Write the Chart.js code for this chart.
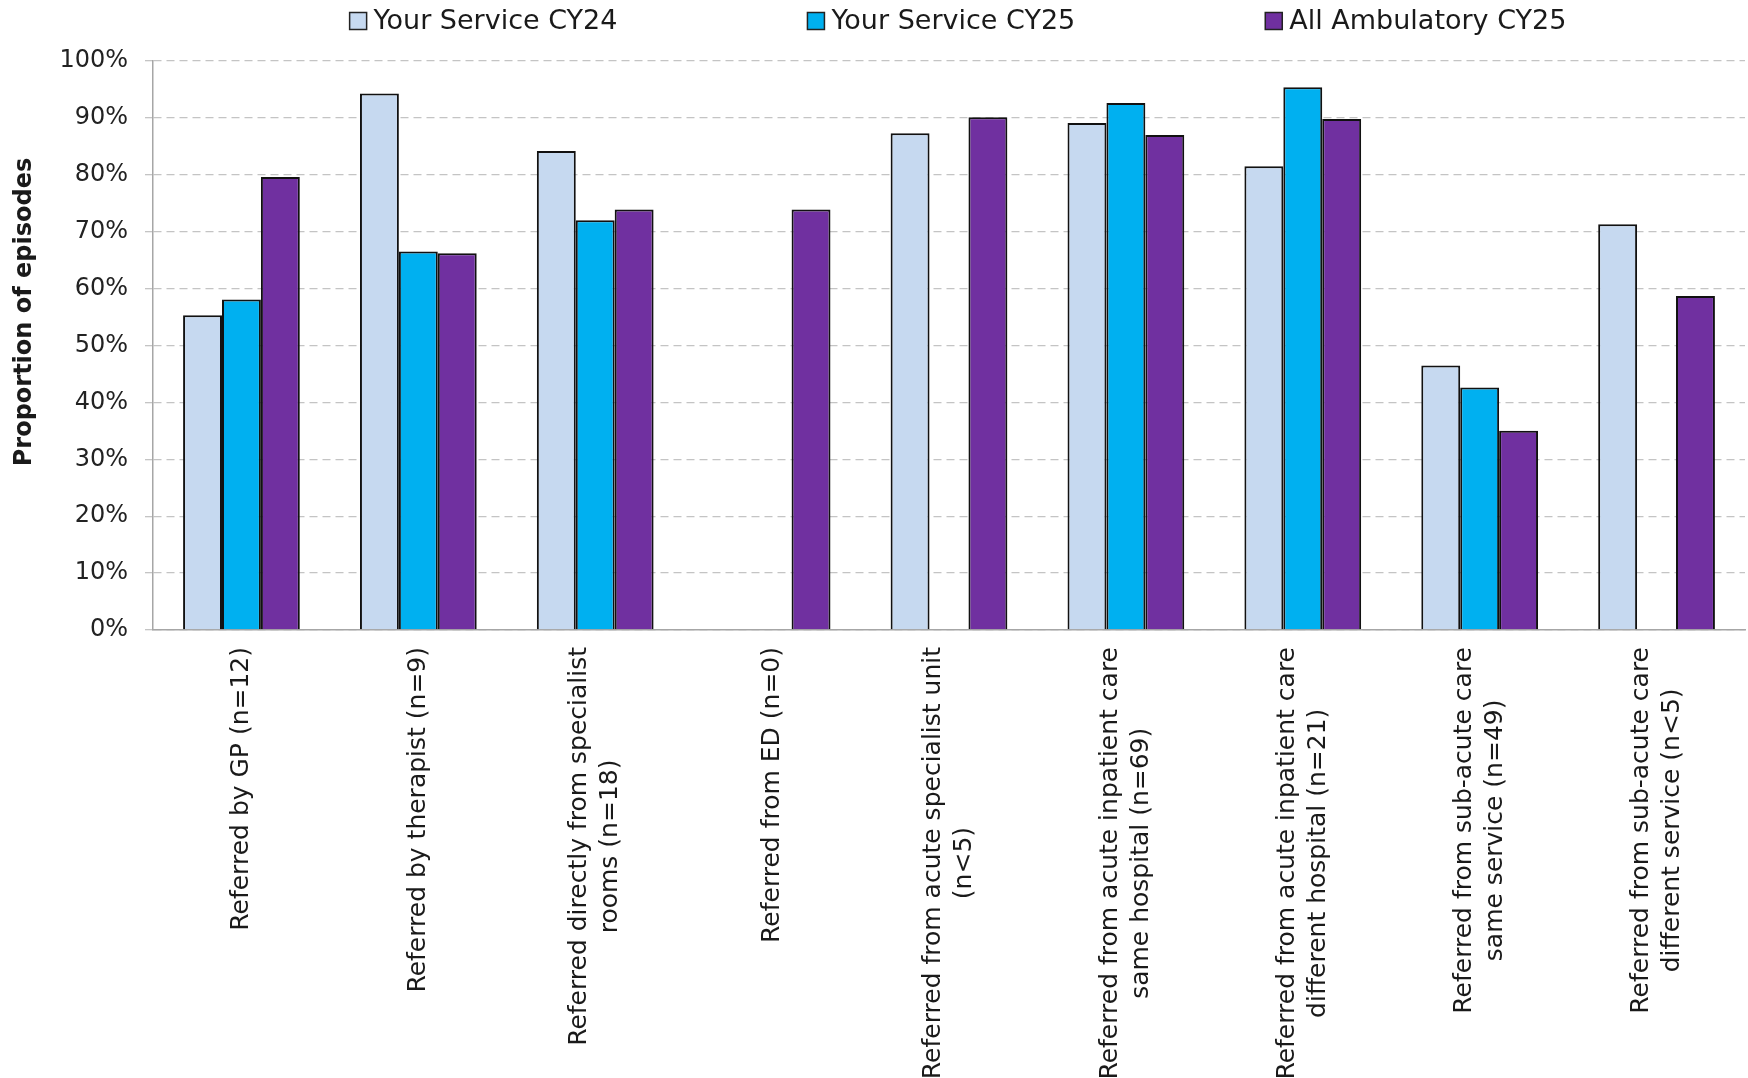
<!DOCTYPE html>
<html>
<head>
<meta charset="utf-8">
<script src="https://cdn.jsdelivr.net/npm/chart.js@4.4.1/dist/chart.umd.min.js"></script>
<style>
  html, body { margin: 0; padding: 0; background: #fff; }
  #wrap { width: 1748px; height: 1078px; }
</style>
</head>
<body>
<div id="wrap"><canvas id="referralChart"></canvas></div>
<script>
// categories (wrapped as in the original axis)
const categories = [
    ["Referred by GP (n=12)"],
    ["Referred by therapist (n=9)"],
    ["Referred directly from specialist", "rooms (n=18)"],
    ["Referred from ED (n=0)"],
    ["Referred from acute specialist unit", "(n<5)"],
    ["Referred from acute inpatient care", "same hospital (n=69)"],
    ["Referred from acute inpatient care", "different hospital (n=21)"],
    ["Referred from sub-acute care", "same service (n=49)"],
    ["Referred from sub-acute care", "different service (n<5)"]
];

const seriesNames = ["Your Service CY24", "Your Service CY25", "All Ambulatory CY25"];

// proportion of episodes, %
const serviceCY24 = [55.3, 94.3, 84.2, null, 87.3, 89.1, 81.5, 46.5, 71.3];
const serviceCY25 = [58.1, 66.5, 72.0, null, null, 92.6, 95.4, 42.6, null];
const allAmbulatoryCY25 = [79.6, 66.2, 73.9, 73.9, 90.1, 87.0, 89.8, 35.0, 58.7];

const yTickValues = [0, 10, 20, 30, 40, 50, 60, 70, 80, 90, 100];
const yTitle = "Proportion of episodes";

const FONT = "'DejaVu Sans', sans-serif";
Chart.defaults.font.family = FONT;
Chart.defaults.color = "#222";

// labels, axis title and legend drawn the way the original lays them out
const refText = {
    id: "refText",
    afterDraw(chart) {
        const { ctx, chartArea, scales } = chart;
        const x = scales.x;
        ctx.save();
        ctx.fillStyle = "#1a1a1a";
        ctx.textBaseline = "middle";

        // category labels, rotated, extra lines centred on the first
        ctx.font = "25px " + FONT;
        ctx.textAlign = "center";
        chart.data.labels.forEach(function (lines, i) {
            const px = x.getPixelForValue(i);
            const maxW = Math.max(...lines.map(l => ctx.measureText(l).width));
            ctx.save();
            ctx.translate(px, chartArea.bottom + 17);
            ctx.rotate(-Math.PI / 2);
            lines.forEach(function (l, j) {
                ctx.fillText(l, -maxW / 2, (j - (lines.length - 1) / 2) * 31);
            });
            ctx.restore();
        });

        // y axis title
        ctx.save();
        ctx.font = "bold 24px " + FONT;
        ctx.translate(25, 312);
        ctx.rotate(-Math.PI / 2);
        ctx.fillText(yTitle, 0, 0);
        ctx.restore();

        // legend
        ctx.font = "27px " + FONT;
        ctx.textAlign = "left";
        const box = 17, gapText = 7, gapItem = 190;
        const items = chart.data.datasets.map(ds => ({
            text: ds.label,
            fill: ds.backgroundColor,
            w: box + gapText + ctx.measureText(ds.label).width
        }));
        const total = items.reduce((s, it) => s + it.w, 0) + gapItem * (items.length - 1);
        let lx = (chartArea.left + chartArea.right) / 2 - total / 2 + 9;
        const ly = 21;
        items.forEach(function (it) {
            ctx.fillStyle = it.fill;
            ctx.fillRect(lx, ly - box / 2, box, box);
            ctx.lineWidth = 1.5;
            ctx.strokeStyle = "#222";
            ctx.strokeRect(lx, ly - box / 2, box, box);
            ctx.fillStyle = "#1a1a1a";
            ctx.fillText(it.text, lx + box + gapText, ly + 1);
            lx += it.w + gapItem;
        });
        ctx.restore();
    }
};

const ctx = document.getElementById("referralChart").getContext("2d");
new Chart(ctx, {
    type: "bar",
    data: {
        labels: categories,
        datasets: [
            {
                label: seriesNames[0],
                data: serviceCY24,
                backgroundColor: "#C6D9F0",
                borderColor: "#111",
                borderWidth: 2
            },
            {
                label: seriesNames[1],
                data: serviceCY25,
                backgroundColor: "#00B0F0",
                borderColor: "#111",
                borderWidth: 2
            },
            {
                label: seriesNames[2],
                data: allAmbulatoryCY25,
                backgroundColor: "#7030A0",
                borderColor: "#111",
                borderWidth: 2
            }
        ]
    },
    options: {
        responsive: true,
        maintainAspectRatio: false,
        animation: false,
        devicePixelRatio: 1,
        layout: { padding: { left: 0, right: 3, top: 61, bottom: 448 } },
        datasets: {
            bar: { categoryPercentage: 0.66, barPercentage: 1.0 }
        },
        plugins: {
            legend: { display: false },
            tooltip: { enabled: false }
        },
        scales: {
            x: {
                grid: { display: false },
                border: { display: true, color: "#a6a6a6", width: 1.5 },
                ticks: { display: false },
                afterFit(scale) { scale.height = 0; }
            },
            y: {
                min: 0,
                max: 100,
                afterFit(scale) { scale.width = 153; },
                afterBuildTicks(scale) {
                    scale.ticks = yTickValues.map(v => ({ value: v }));
                },
                ticks: {
                    padding: 17,
                    font: { size: 24 },
                    color: "#222",
                    callback: v => v + "%"
                },
                grid: {
                    color: "#c4c4c4",
                    lineWidth: 1.3,
                    tickLength: 8,
                    drawTicks: true
                },
                border: { display: true, color: "#a6a6a6", width: 1.5, dash: [8, 5] }
            }
        }
    },
    plugins: [refText]
});
</script>
</body>
</html>
